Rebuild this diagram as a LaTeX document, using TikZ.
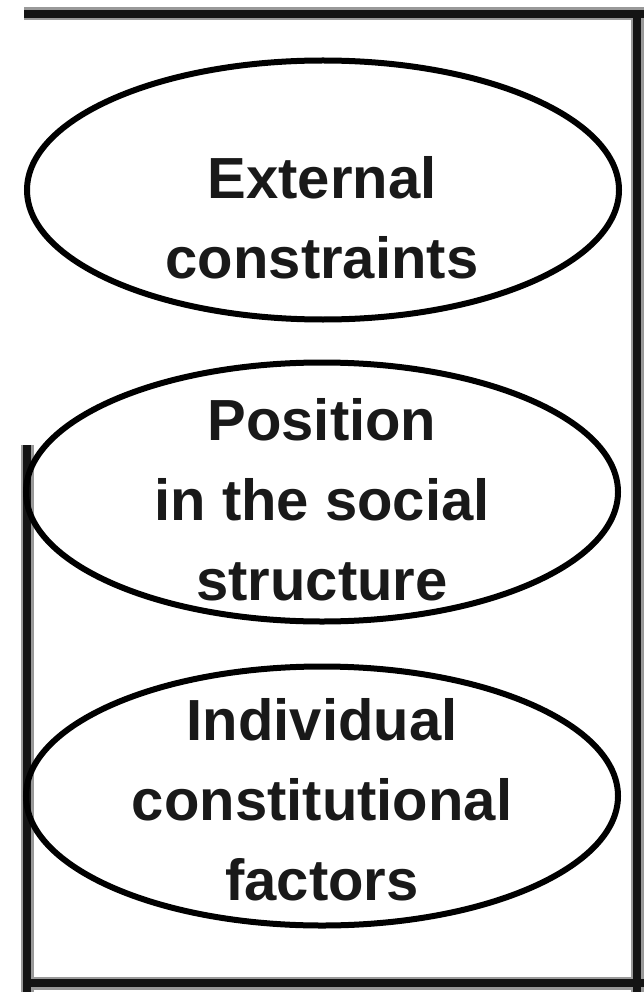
\documentclass[tikz,border=0pt]{standalone}
\usepackage{fontspec}
\setmainfont{Liberation Sans}
\usetikzlibrary{shapes.geometric}
\tikzset{
  oval/.style={ellipse, draw=black, line width=6pt, inner sep=0pt,
    minimum width=592pt, minimum height=259pt},
  lbl/.style={font=\fontsize{58}{80}\selectfont\bfseries, align=center, text=black!90},
  frameouter/.style={line width=13pt, draw=black!40},
  frameinner/.style={line width=8pt, draw=black!92}
}
\begin{document}
\begin{tikzpicture}[x=1pt,y=-1pt]
\useasboundingbox (0,0) rectangle (644,992);
\coordinate (f1) at (27,445);
\coordinate (f2) at (27,992);
\coordinate (f3) at (27,983);
\coordinate (f4) at (637,983);
\coordinate (f5) at (637,14);
\coordinate (f6) at (24,14);
\coordinate (f7) at (644,983);
\coordinate (f8) at (637,992);
\coordinate (f9) at (644,14);
\foreach \s in {frameouter,frameinner}{
  \draw[\s] (f1) -- (f2);
  \draw[\s] (f3) -- (f7);
  \draw[\s] (f5) -- (f8);
  \draw[\s] (f6) -- (f9);
}
\node[oval] (e1) at (323,190) {};
\node[oval] (e2) at (322,492) {};
\node[oval] (e3) at (322,796) {};
\node[lbl] (t1) at (322,218) {External\\constraints};
\node[lbl] (t2) at (322,500) {Position\\in the social\\structure};
\node[lbl] (t3) at (322,800) {Individual\\constitutional\\factors};
\end{tikzpicture}
\end{document}
